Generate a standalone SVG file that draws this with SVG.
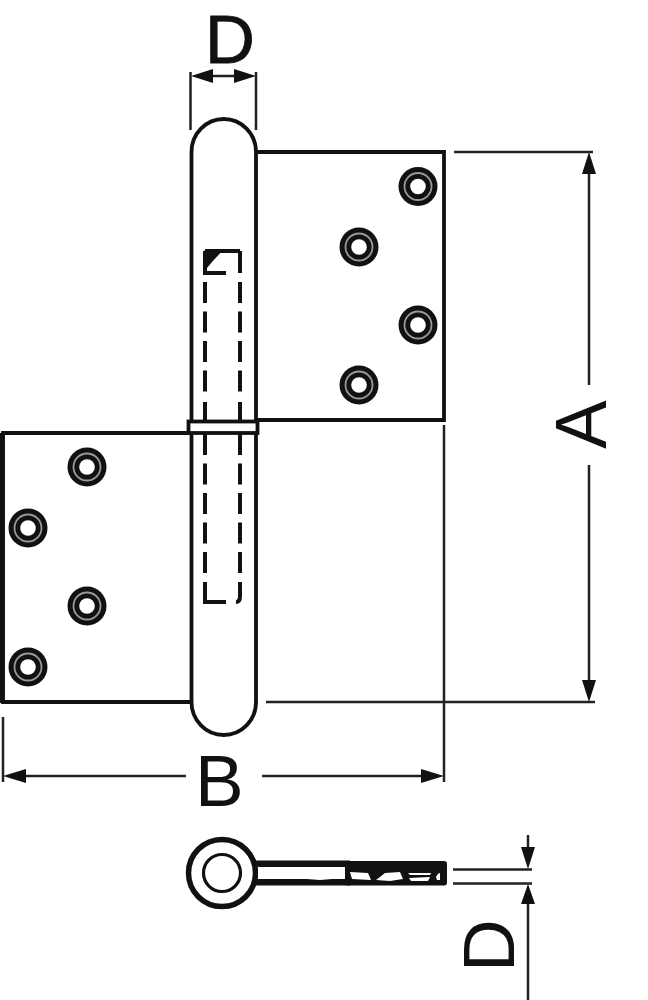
<svg xmlns="http://www.w3.org/2000/svg" width="648" height="1000" viewBox="0 0 648 1000">
<style>
.o{fill:none;stroke:#111;stroke-width:3.800}
.t{fill:none;stroke:#222;stroke-width:2.500}
.h{fill:#111;stroke:none}
.w{fill:#fff;stroke:none}
.d{fill:none;stroke:#111;stroke-width:4;stroke-dasharray:21 8.500}
.hd{fill:#111}
.hr{fill:none;stroke:#999;stroke-width:1.800}
.hc{fill:#fff}
text{font-family:"Liberation Sans",Arial,sans-serif;font-size:73px;fill:#111}
</style>
<defs>
<g id="hole"><circle r="19.500" class="hd"/><circle r="13.500" class="hr"/><circle r="7.800" class="hc"/></g>
</defs>
<rect width="648" height="1000" fill="#fff"/>
<g id="top-plate">
<path class="o" d="M256 152H444V420H256"/>
</g>
<g id="bottom-plate">
<path class="o" d="M190 433H3V702H190"/>
<path class="h" d="M0 433h4.500v270h-4.500z"/>
</g>
<g id="holes">
<use id="hole1" href="#hole" x="418" y="186.500"/>
<use id="hole2" href="#hole" x="359" y="247"/>
<use id="hole3" href="#hole" x="418" y="325"/>
<use id="hole4" href="#hole" x="359" y="385"/>
<use id="hole5" href="#hole" x="87" y="467"/>
<use id="hole6" href="#hole" x="28" y="528"/>
<use id="hole7" href="#hole" x="87" y="606"/>
<use id="hole8" href="#hole" x="28" y="667"/>
</g>
<g id="barrel">
<path class="o" d="M191.500 152A32.250 33 0 0 1 256 152V702A32.250 33 0 0 1 191.500 702Z"/>
</g>
<g id="pin">
<path class="o" style="stroke-width:4" d="M205 251V273H226M240 251V273M205 251H240"/>
<path class="h" d="M205 249L224 249L212 262L207 268L204 256Z"/>
<path class="d" d="M205 282V396"/>
<path class="d" d="M240 282V396"/>
<path class="d" d="M205 421V402"/>
<path class="d" d="M240 421V402"/>
<path class="d" d="M205 434V578"/>
<path class="d" d="M240 434V578"/>
<path class="o" style="stroke-width:4" d="M205 582V602H226M240 582V596Q240 602 236 602"/>
</g>
<g id="knuckle">
<rect x="188.500" y="421.500" width="69" height="11.500" fill="#fff" stroke="#111" stroke-width="3.800"/>
</g>
<g id="eye-view">
<circle cx="222" cy="873" r="33.500" class="o" style="stroke-width:5.500"/>
<circle cx="222" cy="873" r="18.500" class="o" style="stroke-width:3.200"/>
<rect x="345" y="861" width="102" height="24.500" rx="3" class="h"/>
<path class="h" d="M254 860.500H350V867H258ZM254 879H350V885.500H254Z"/>
<path class="w" d="M345 870L345 878L338 878.500L320 880L300 878.500L272 879L258 878L258 867.500L340 868ZM350 872L368 873L371 880L352 879ZM376 880L385 873L400 872L403 879L390 881ZM408 873H431L430 875H410ZM409 878L430 877L428 881H411ZM436 877Q438 873 440 873L440 880H437Z"/>
</g>
<g id="connectors">
<path class="t" d="M454 152H593M266 702H595M589 165V385M589 465V690"/>
<path class="h" d="M589 152l7 22h-14zM589 702l7-22h-14z"/>
<path class="t" d="M190.500 72V130M256 72V130M212 76H236"/>
<path class="h" d="M191 76l22-7v14zM256 76l-22-7v14z"/>
<path class="t" d="M3 717V782M444 425V782M10 776H186M262 776H436"/>
<path class="h" d="M3 776l23-7v14zM444 776l-23-7v14z"/>
<path class="t" d="M453 869.500H532M453 883.500H532M528 835V858M528 895V1000"/>
<path class="h" d="M528 869l-7-22h14zM528 884l-7 20h14z"/>
</g>
<g id="labels">
<text x="205" y="62.500" style="font-size:69px;stroke:#111;stroke-width:.8">D</text>
<text x="195" y="806">B</text>
<text transform="translate(606 449) rotate(-90)">A</text>
<text transform="translate(514 972) rotate(-90)">D</text>
</g>
</svg>
